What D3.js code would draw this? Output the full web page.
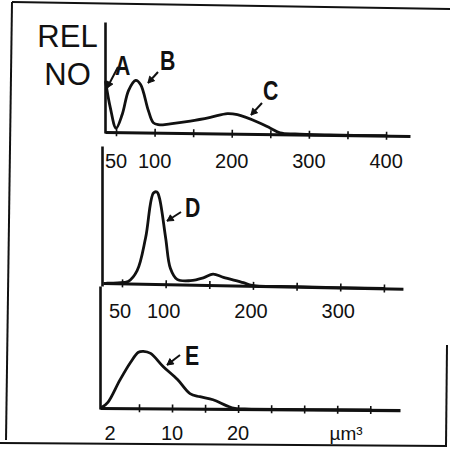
<!DOCTYPE html>
<html><head><meta charset="utf-8">
<script src="https://cdn.jsdelivr.net/npm/d3@7"></script>
<style>
html,body{margin:0;padding:0;background:#fff;}
svg{display:block;}
text{font-family:"Liberation Sans",Arial,Helvetica,sans-serif;fill:#111;}
</style></head>
<body>
<svg id="c" width="450" height="450"></svg>
<script>
// ---------- data ----------
// Panel 1 (A, B, C): volume (µm³) vs relative number
const topSize = [35.7, 42, 50, 57.8, 65.6, 74.6, 81, 91.5, 98, 104.4, 120, 146, 172, 194, 207, 233, 250, 262.6, 282, 327, 400];
const topRel  = [50, 25, 4, 18, 42, 52, 48, 22, 10, 8, 9, 12, 16, 20, 19, 12, 6, 1.5, 0.5, 0, 0];
const topTicks = [50, 100, 150, 200, 250, 300, 350, 400];
const topTickLabels = [50, 100, 200, 300, 400];

// Panel 2 (D)
const midSize = [32.8, 45, 57, 67, 76, 84, 88, 91, 99, 105, 113, 128, 143, 154, 166, 189, 199, 250, 350];
const midRel  = [0, 0.5, 2, 13, 46, 91, 92, 86, 46, 16, 5, 4, 7, 11, 8, 3, 0.5, 0, 0];
const midTicks = [50, 100, 150, 200, 250, 300, 350];
const midTickLabels = [50, 100, 200, 300];

// Panel 3 (E)
const botSize = [1.2, 1.8, 3.0, 4.1, 4.9, 5.6, 6.7, 8.6, 10.8, 12.7, 14.2, 16.2, 18.3, 19.5, 22, 40];
const botRel  = [1, 6, 28, 46, 56, 57, 55, 42, 29, 15, 12, 9, 3, 0.5, 0, 0];
const botTicks = [5, 10, 15, 20, 25, 30, 35, 40];
const botTickLabels = [2, 10, 20];
const unitLabel = "µm³";
const yLabel = ["REL", "NO"];

// ---------- drawing ----------
const svg = d3.select("#c");
const ink = "#111";

// frame
const frame = svg.append("g").attr("fill","none").attr("stroke",ink).attr("stroke-width",2);
frame.append("path").attr("d","M12,2 L450,9");
frame.append("path").attr("d","M12,2 L6,440");
frame.append("path").attr("d","M0,443 L447,446");
frame.append("path").attr("d","M447,345 L446,446");

// y-label
svg.append("text").attr("x",67.5).attr("y",47).attr("text-anchor","middle")
  .style("font-size","31px").text(yLabel[0]);
svg.append("text").attr("x",67.5).attr("y",85).attr("text-anchor","middle")
  .style("font-size","31px").text(yLabel[1]);

function panel(cfg){
  const x = cfg.x, y = cfg.y;
  const g = svg.append("g")
    .attr("transform", `rotate(${cfg.rot},${cfg.ox},${cfg.oy})`);
  // x axis
  const ax = g.append("g").attr("transform",`translate(0,${cfg.oy})`)
    .call(d3.axisBottom(x).tickValues(cfg.ticks).tickFormat("").tickSizeInner(4).tickSizeOuter(0));
  ax.select(".domain").attr("stroke",ink).attr("stroke-width",3.2);
  ax.selectAll(".tick line").attr("y1",-4).attr("y2",4).attr("stroke",ink).attr("stroke-width",1.6);
  // curve
  const pts = cfg.sx.map((s,i)=>[s,cfg.sy[i]]);
  g.append("path").datum(pts)
    .attr("fill","none").attr("stroke",ink).attr("stroke-width",2.8)
    .attr("stroke-linejoin","round").attr("stroke-linecap","round")
    .attr("d", d3.line().x(d=>x(d[0])).y(d=>y(d[1])).curve(d3.curveCatmullRom.alpha(0.5)));
  // y axis
  const ya = svg.append("g").attr("transform",`translate(${cfg.yx},0)`)
    .call(d3.axisLeft(cfg.yAxisScale).tickValues([]).tickSizeOuter(0));
  ya.select(".domain").attr("stroke",ink).attr("stroke-width",2.6);
  // tick labels
  svg.append("g").selectAll("text").data(cfg.labels).join("text")
    .attr("x", d=>x(d)+ (cfg.labelShift||0)).attr("y", cfg.labelY)
    .attr("text-anchor","middle").style("font-size","20px").text(d=>d);
}

// panel 1
const xTop = d3.scaleLinear().domain([35.7, 431]).range([105, 410]);
const yTop = d3.scaleLinear().domain([0, 110]).range([132, 22]);
panel({x:xTop, y:yTop, rot:0.75, ox:105, oy:132, ticks:topTicks, sx:topSize, sy:topRel,
  yx:105, yAxisScale:d3.scaleLinear().domain([0,1]).range([133,22]),
  labels:topTickLabels, labelY:168});

// panel 2
const xMid = d3.scaleLinear().domain([28.2, 371.8]).range([103, 403]);
const yMid = d3.scaleLinear().domain([0, 100]).range([283, 183]);
panel({x:xMid, y:yMid, rot:1.1, ox:103, oy:283, ticks:midTicks, sx:midSize, sy:midRel,
  yx:102, yAxisScale:d3.scaleLinear().domain([0,1]).range([286,146]),
  labels:midTickLabels, labelY:318, labelShift:-2});

// panel 3 (polylinear scale: the "2" origin label sits closer than linear spacing)
const xBot = d3.scaleLinear().domain([0.97, 2, 5, 44.5]).range([100, 110, 139, 400]);
const yBot = d3.scaleLinear().domain([0, 100]).range([408, 308]);
panel({x:xBot, y:yBot, rot:0.4, ox:100, oy:408, ticks:botTicks, sx:botSize, sy:botRel,
  yx:100, yAxisScale:d3.scaleLinear().domain([0,1]).range([409,286]),
  labels:botTickLabels, labelY:440});
svg.append("text").attr("x",346).attr("y",440).attr("text-anchor","middle")
  .style("font-size","19px").text(unitLabel);

// annotations: letters + arrows
const notes = [
  {t:"A", lx:115, ly:75, from:[118,67], to:[107,88]},
  {t:"B", lx:160, ly:70, from:[158,72], to:[148,83]},
  {t:"C", lx:263, ly:100, from:[262,103], to:[251,115]},
  {t:"D", lx:185, ly:217, from:[181,212], to:[167,221]},
  {t:"E", lx:185, ly:365, from:[180,355], to:[167,365]}
];
notes.forEach(n=>{
  svg.append("text").attr("transform",`translate(${n.lx},${n.ly}) scale(0.76,1)`)
    .style("font-size","28px").style("font-weight","bold").text(n.t);
  svg.append("line").attr("x1",n.from[0]).attr("y1",n.from[1]).attr("x2",n.to[0]).attr("y2",n.to[1])
    .attr("stroke",ink).attr("stroke-width",2);
  const ang = Math.atan2(n.to[1]-n.from[1], n.to[0]-n.from[0]);
  const L=7, w=0.5;
  const p1=[n.to[0]-L*Math.cos(ang-w), n.to[1]-L*Math.sin(ang-w)];
  const p2=[n.to[0]-L*Math.cos(ang+w), n.to[1]-L*Math.sin(ang+w)];
  svg.append("path").attr("d",`M${p1}L${n.to}L${p2}Z`).attr("fill",ink).attr("stroke",ink).attr("stroke-width",1);
});
</script>
</body></html>
